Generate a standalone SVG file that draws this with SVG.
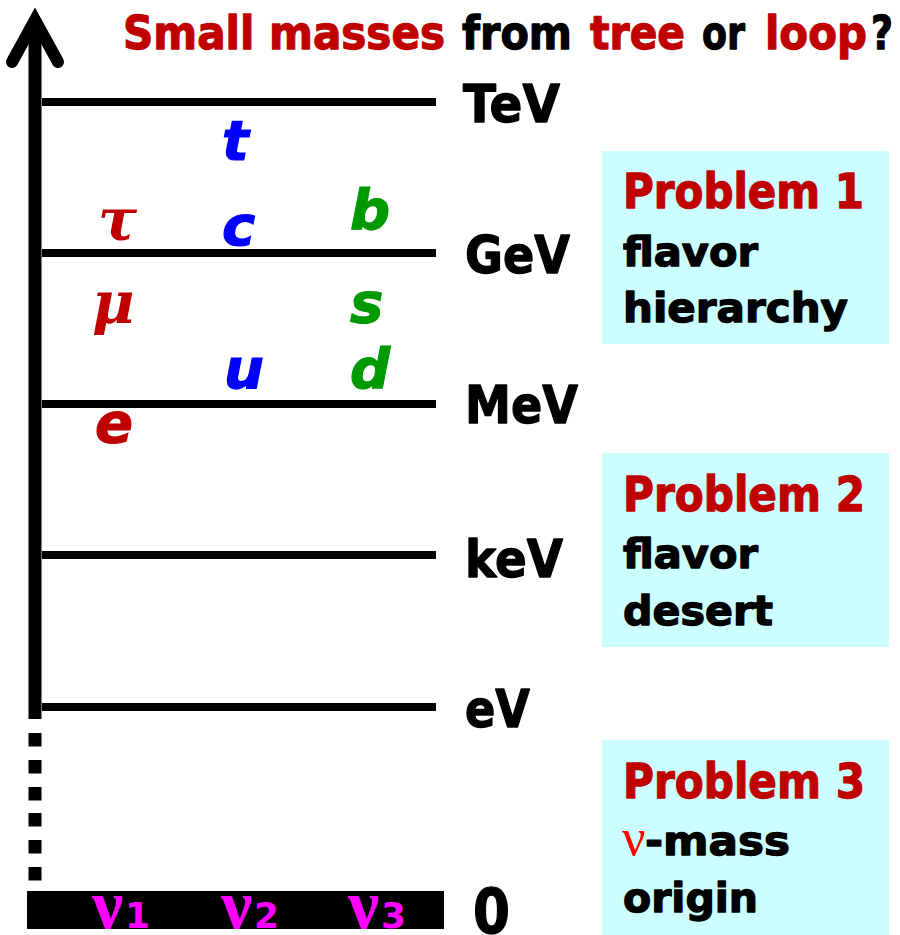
<svg xmlns="http://www.w3.org/2000/svg" width="900" height="935" viewBox="0 0 900 935">
<style>
.sans{font-family:"DejaVu Sans","Liberation Sans",sans-serif;font-weight:bold;stroke-width:1.3;stroke-linejoin:round}
.red{fill:#C00000;stroke:#C00000}
.blk{fill:#000;stroke:#000}
.lvl{font-size:52px}
.ttl{font-size:47px}
.pb{font-size:48px}
.pt{font-size:40px}
.q{font-family:"DejaVu Sans","Liberation Sans",sans-serif;font-weight:bold;font-style:italic;font-size:56px;stroke-width:1.2}
.gk{font-family:"DejaVu Serif","Liberation Serif",serif;font-weight:bold;font-style:italic;font-size:58px;fill:#C00000}
.blue{fill:#0000FF;stroke:#0000FF}
.green{fill:#009900;stroke:#009900}
.qr{fill:#C00000;stroke:#C00000}
.nu{font-family:"Liberation Serif","DejaVu Serif",serif;font-weight:bold;font-size:70px;fill:#FF00FF}
.nd{font-family:"DejaVu Sans","Liberation Sans",sans-serif;font-weight:bold;font-size:36px;fill:#FF00FF}
.box{fill:#CCFFFF}
.lvline{stroke:#000;stroke-width:8}
</style>
<g id="title">
<text class="sans ttl red" x="123" y="49" textLength="322" lengthAdjust="spacingAndGlyphs">Small masses</text>
<text class="sans ttl blk" x="462" y="49" textLength="110" lengthAdjust="spacingAndGlyphs">from</text>
<text class="sans ttl red" x="590" y="49" textLength="95" lengthAdjust="spacingAndGlyphs">tree</text>
<text class="sans ttl blk" x="702" y="49" textLength="43" lengthAdjust="spacingAndGlyphs">or</text>
<text class="sans ttl red" x="765" y="49" textLength="102" lengthAdjust="spacingAndGlyphs">loop</text>
<text class="sans ttl blk" x="871" y="49" textLength="22" lengthAdjust="spacingAndGlyphs">?</text>
</g>
<g id="axis">
<line x1="35" y1="20" x2="35" y2="719" stroke="#000" stroke-width="13"/>
<polyline points="12,62 35,20 58,62" fill="none" stroke="#000" stroke-width="12" stroke-linecap="round" stroke-linejoin="miter"/>
<rect x="28.5" y="733" width="13" height="13.5"/>
<rect x="28.5" y="760" width="13" height="13.5"/>
<rect x="28.5" y="787" width="13" height="13.5"/>
<rect x="28.5" y="813" width="13" height="13.5"/>
<rect x="28.5" y="840" width="13" height="13.5"/>
<rect x="28.5" y="867" width="13" height="13.5"/>
</g>
<g id="levels">
<line class="lvline" x1="42" y1="102" x2="436" y2="102"/>
<line class="lvline" x1="42" y1="253" x2="436" y2="253"/>
<line class="lvline" x1="42" y1="404" x2="436" y2="404"/>
<line class="lvline" x1="42" y1="555" x2="436" y2="555"/>
<line class="lvline" x1="42" y1="707" x2="436" y2="707"/>
<rect x="27" y="891" width="417" height="38" fill="#000"/>
</g>
<g id="level-labels">
<text class="sans lvl blk" x="463" y="122" textLength="97" lengthAdjust="spacingAndGlyphs">TeV</text>
<text class="sans lvl blk" x="465" y="273" textLength="105" lengthAdjust="spacingAndGlyphs">GeV</text>
<text class="sans lvl blk" x="465" y="423" textLength="113" lengthAdjust="spacingAndGlyphs">MeV</text>
<text class="sans lvl blk" x="465" y="577" textLength="98" lengthAdjust="spacingAndGlyphs">keV</text>
<text class="sans lvl blk" x="465" y="727" textLength="65" lengthAdjust="spacingAndGlyphs">eV</text>
<text class="sans blk" x="473" y="933" font-size="62" textLength="37" lengthAdjust="spacingAndGlyphs">0</text>
</g>
<g id="particles">
<text class="q blue" x="222" y="160">t</text>
<text class="gk" x="98" y="240">τ</text>
<text class="q blue" x="222" y="245">c</text>
<text class="q green" x="350" y="229">b</text>
<text class="gk" x="92" y="323">μ</text>
<text class="q green" x="350" y="322">s</text>
<text class="q blue" x="224" y="388">u</text>
<text class="q green" x="350" y="388">d</text>
<text class="q qr" x="95" y="442">e</text>
</g>
<g id="neutrinos">
<text x="92" y="928"><tspan class="nu">ν</tspan><tspan class="nd" x="125">1</tspan></text>
<text x="221" y="928"><tspan class="nu">ν</tspan><tspan class="nd" x="254">2</tspan></text>
<text x="348" y="928"><tspan class="nu">ν</tspan><tspan class="nd" x="381">3</tspan></text>
</g>
<g id="problem1">
<rect class="box" x="602" y="151" width="287" height="193"/>
<text class="sans pb red" x="623" y="208" textLength="241" lengthAdjust="spacingAndGlyphs">Problem 1</text>
<text class="sans pt blk" x="623" y="266" textLength="135" lengthAdjust="spacingAndGlyphs">flavor</text>
<text class="sans pt blk" x="623" y="322" textLength="225" lengthAdjust="spacingAndGlyphs">hierarchy</text>
</g>
<g id="problem2">
<rect class="box" x="602" y="453" width="287" height="194"/>
<text class="sans pb red" x="623" y="511" textLength="242" lengthAdjust="spacingAndGlyphs">Problem 2</text>
<text class="sans pt blk" x="623" y="568" textLength="135" lengthAdjust="spacingAndGlyphs">flavor</text>
<text class="sans pt blk" x="623" y="625" textLength="150" lengthAdjust="spacingAndGlyphs">desert</text>
</g>
<g id="problem3">
<rect class="box" x="602" y="740" width="287" height="195"/>
<text class="sans pb red" x="623" y="798" textLength="242" lengthAdjust="spacingAndGlyphs">Problem 3</text>
<text x="622" y="855"><tspan font-family="'Liberation Serif','DejaVu Serif',serif" font-size="52" fill="#FF0000">ν</tspan><tspan class="sans pt blk" x="645" textLength="145" lengthAdjust="spacingAndGlyphs">-mass</tspan></text>
<text class="sans pt blk" x="623" y="912" textLength="135" lengthAdjust="spacingAndGlyphs">origin</text>
</g>
</svg>
